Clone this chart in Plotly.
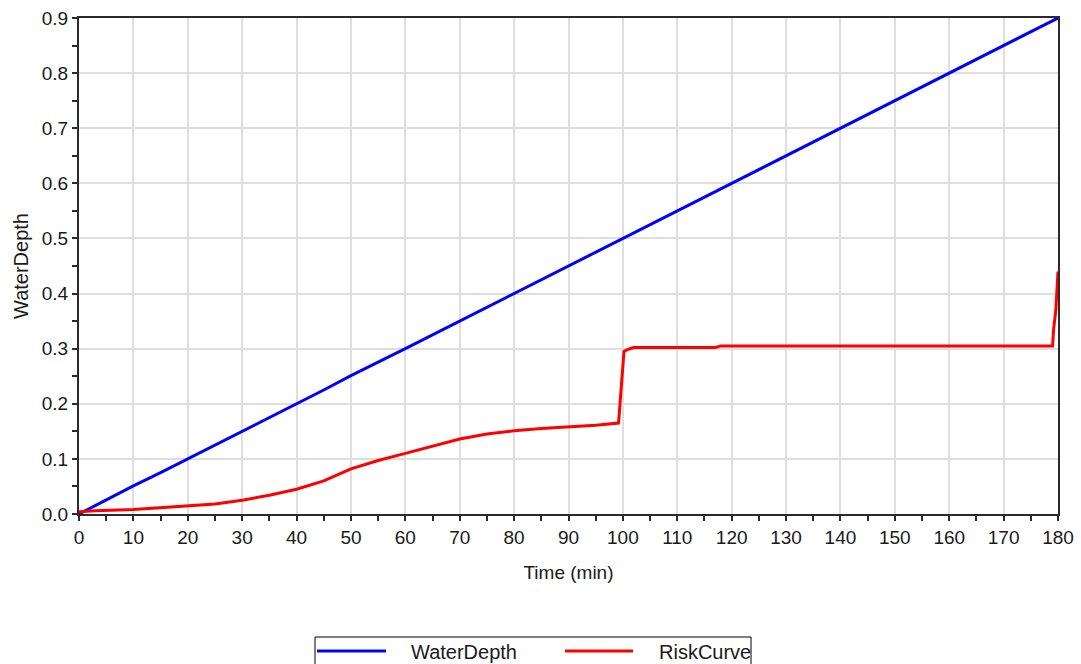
import plotly.graph_objects as go

# Simulated water depth over time (minutes)
depth_time = [0, 5, 10, 15, 20, 25, 30, 35, 40, 45, 50, 55, 60, 65, 70, 75, 80, 85, 90,
              95, 100, 105, 110, 115, 120, 125, 130, 135, 140, 145, 150, 155, 160, 165,
              170, 175, 180]
water_depth = [0.000, 0.026, 0.051, 0.075, 0.100, 0.125, 0.149, 0.175, 0.200, 0.225,
               0.251, 0.275, 0.300, 0.325, 0.350, 0.374, 0.400, 0.425, 0.450, 0.475,
               0.500, 0.525, 0.550, 0.575, 0.600, 0.625, 0.650, 0.675, 0.700, 0.725,
               0.750, 0.775, 0.800, 0.825, 0.850, 0.875, 0.900]

# Risk curve, with its two sudden rises near 100 and 180 minutes
risk_time = [0, 3, 10, 15, 20, 25, 30, 35, 40, 45, 50, 55, 60, 65, 70, 75, 80, 85, 90,
             95, 99.2, 99.5, 99.8, 100.2, 101, 102, 117, 118, 179.0, 179.2, 179.6,
             179.8, 180]
risk_curve = [0.004, 0.006, 0.008, 0.011, 0.014, 0.018, 0.025, 0.034, 0.045, 0.060,
              0.082, 0.097, 0.110, 0.123, 0.136, 0.145, 0.151, 0.155, 0.158, 0.161,
              0.165, 0.207, 0.249, 0.295, 0.299, 0.302, 0.302, 0.305, 0.305, 0.336,
              0.370, 0.400, 0.440]

series_names = ["WaterDepth", "RiskCurve"]
series_colors = ["#0000ff", "#ff0000"]

FONT = "Liberation Sans, Arial, sans-serif"
TEXT = "#1a1a1a"
AXIS = "#2b2b2b"
GRID = "#dedede"

W, H = 1081, 664
ML, MR, MT, MB = 79, 23, 18, 150
PW, PH = W - ML - MR, H - MT - MB


def px_to_paper(px, py):
    """Convert a pixel position in the figure to paper coordinates."""
    return (px - ML) / PW, (H - MB - py) / PH


fig = go.Figure()
for xs, ys, name, color in [(depth_time, water_depth, series_names[0], series_colors[0]),
                            (risk_time, risk_curve, series_names[1], series_colors[1])]:
    fig.add_trace(go.Scatter(x=xs, y=ys, mode="lines", name=name, showlegend=False,
                             line=dict(color=color, width=3)))

axis_common = dict(
    showline=True, linecolor=AXIS, linewidth=2, mirror=True,
    ticks="outside", ticklen=5, tickwidth=1.5, tickcolor=AXIS,
    showgrid=True, gridcolor=GRID, gridwidth=1.5,
    zeroline=False,
    tickfont=dict(family=FONT, size=19, color=TEXT),
)

fig.update_xaxes(
    range=[0, 180], dtick=10, tick0=0,
    minor=dict(dtick=5, ticks="outside", ticklen=5, tickwidth=1.5, tickcolor=AXIS, showgrid=False),
    title=dict(text="Time (min)", font=dict(family=FONT, size=19, color=TEXT), standoff=19),
    **axis_common,
)
fig.update_yaxes(
    range=[0, 0.9], dtick=0.1, tick0=0, tickformat=".1f",
    minor=dict(dtick=0.05, ticks="outside", ticklen=5, tickwidth=1.5, tickcolor=AXIS, showgrid=False),
    title=dict(text="WaterDepth", font=dict(family=FONT, size=20, color=TEXT), standoff=8),
    **axis_common,
)

# Boxed legend below the plot: border, sample lines and labels
shapes = []
annotations = []
x0, y0 = px_to_paper(315, 637)
x1, y1 = px_to_paper(751, 672)
shapes.append(dict(type="rect", xref="paper", yref="paper", x0=x0, y0=y0, x1=x1, y1=y1,
                   line=dict(color="#000000", width=1), fillcolor="white", layer="above"))
legend_slots = [(317, 386, 409), (565, 633, 657)]
for (lx0, lx1, tx), name, color in zip(legend_slots, series_names, series_colors):
    ax0, ay = px_to_paper(lx0, 651)
    ax1, _ = px_to_paper(lx1, 651)
    shapes.append(dict(type="line", xref="paper", yref="paper", x0=ax0, x1=ax1, y0=ay, y1=ay,
                       line=dict(color=color, width=3), layer="above"))
    tx_p, ty_p = px_to_paper(tx, 652)
    annotations.append(dict(text=name, xref="paper", yref="paper", x=tx_p, y=ty_p,
                            xanchor="left", yanchor="middle", showarrow=False,
                            font=dict(family=FONT, size=20, color=TEXT)))

fig.update_layout(
    width=W, height=H, autosize=False,
    margin=dict(l=ML, r=MR, t=MT, b=MB, autoexpand=False),
    paper_bgcolor="white", plot_bgcolor="white",
    font=dict(family=FONT, size=19, color=TEXT),
    showlegend=False,
    shapes=shapes,
    annotations=annotations,
)

fig.write_html("out.html")
